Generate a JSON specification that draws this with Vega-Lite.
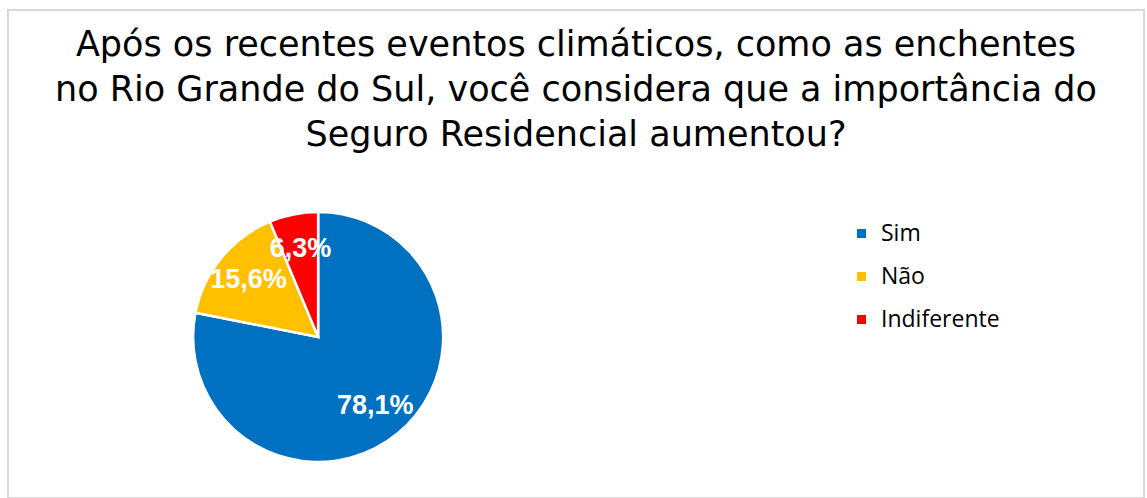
{
  "$schema": "https://vega.github.io/schema/vega-lite/v6.json",
  "width": 1147,
  "height": 498,
  "autosize": {"type": "fit", "contains": "padding"},
  "padding": {"left": 8, "top": 10, "right": 3, "bottom": 0},
  "background": "white",
  "config": {"view": {"stroke": "#d9d9d9", "strokeWidth": 2}},
  "title": {
    "text": [
      "Após os recentes  eventos climáticos, como as enchentes",
      "no Rio Grande do Sul, você considera que a importância do",
      "Seguro Residencial aumentou?"
    ],
    "font": "DejaVu Sans",
    "fontSize": 35,
    "fontWeight": "normal",
    "color": "#000000",
    "lineHeight": 45,
    "anchor": "middle",
    "baseline": "top",
    "offset": -143
  },
  "data": {
    "values": [
      {"resposta": "Sim", "pct": 78.1, "rotulo": "78,1%", "ordem": 1},
      {"resposta": "Não", "pct": 15.6, "rotulo": "15,6%", "ordem": 2},
      {"resposta": "Indiferente", "pct": 6.3, "rotulo": "6,3%", "ordem": 3}
    ]
  },
  "encoding": {
    "theta": {"field": "pct", "type": "quantitative", "stack": true},
    "order": {"field": "ordem", "type": "quantitative"},
    "x": {"datum": 0.273, "type": "quantitative", "scale": {"domain": [0, 1], "nice": false, "zero": false}, "axis": null},
    "y": {"datum": 0.330, "type": "quantitative", "scale": {"domain": [0, 1], "nice": false, "zero": false}, "axis": null}
  },
  "layer": [
    {
      "mark": {"type": "arc", "outerRadius": 125, "stroke": "white", "strokeWidth": 2.5},
      "encoding": {
        "color": {
          "field": "resposta",
          "type": "nominal",
          "scale": {"domain": ["Sim", "Não", "Indiferente"], "range": ["#0070C0", "#FFC000", "#FF0000"]},
          "legend": {
            "orient": "none",
            "legendX": 842,
            "legendY": 212,
            "title": null,
            "symbolType": "square",
            "symbolSize": 81,
            "symbolStrokeWidth": 0,
            "labelFont": "Open Sans",
            "labelFontSize": 23,
            "labelColor": "#000000",
            "rowPadding": 19,
            "labelOffset": 8,
            "padding": 0
          }
        }
      }
    },
    {
      "mark": {"type": "text", "radius": 90, "font": "Liberation Sans", "fontSize": 27, "fontWeight": "bold", "color": "white", "align": "center", "baseline": "middle"},
      "encoding": {"text": {"field": "rotulo", "type": "nominal"}}
    }
  ]
}
